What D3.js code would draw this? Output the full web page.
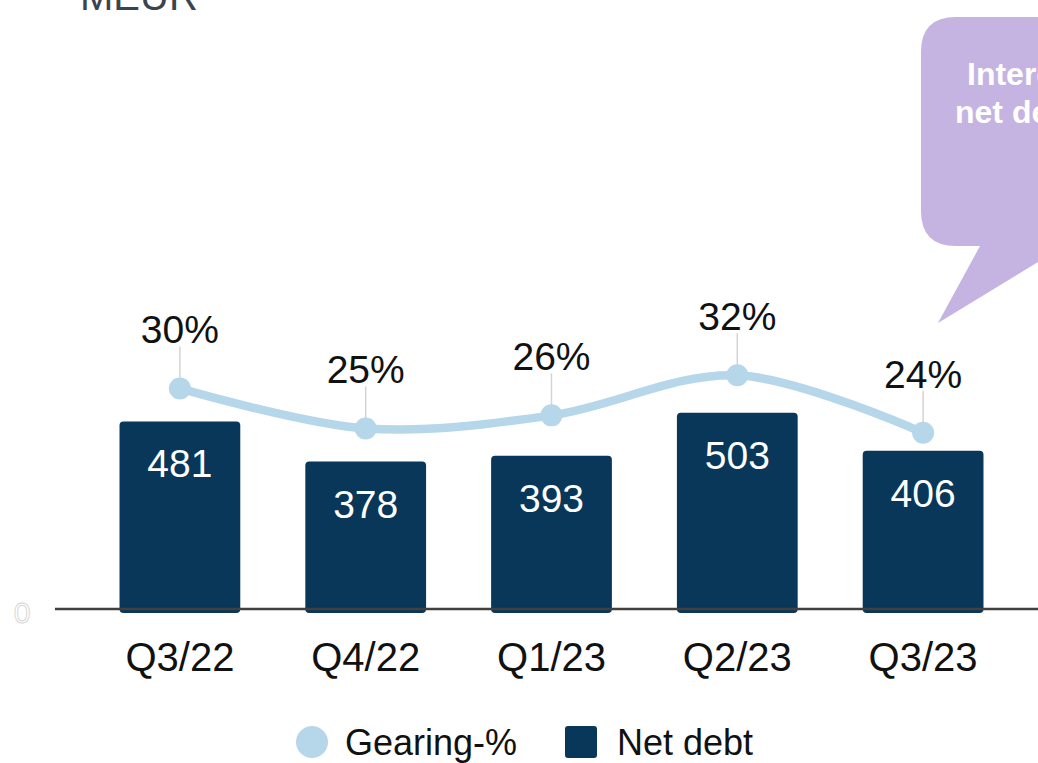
<!DOCTYPE html>
<html>
<head>
<meta charset="utf-8">
<script src="https://cdn.jsdelivr.net/npm/d3@7"></script>
<style>
  html, body { margin: 0; padding: 0; background: #fff; overflow: hidden; }
  svg { display: block; font-family: "Liberation Sans", Arial, sans-serif; }
</style>
</head>
<body>
<div id="chart"></div>
<script>
// data
const quarters = ['Q3/22', 'Q4/22', 'Q1/23', 'Q2/23', 'Q3/23'];
const netDebt = [481, 378, 393, 503, 406];
const gearing = [30.3, 24.8, 26.6, 32.1, 24.2];
const gearingLabels = ['30%', '25%', '26%', '32%', '24%'];
const legendItems = ['Gearing-%', 'Net debt'];
const calloutLines = ['Interest-bearing', 'net debt'];

const W = 1038, H = 763;
const barColor = '#08375a', lineColor = '#b6d6ea';

const svg = d3.select('#chart').append('svg')
    .attr('width', W).attr('height', H);

// unit label, cut at the top edge
svg.append('text').attr('x', 80).attr('y', 10)
    .attr('font-size', 40).attr('fill', '#3a4450').text('MEUR');

// scales
const x = d3.scaleBand().domain(quarters).range([87, 1016])
    .paddingInner(0.35).paddingOuter(0.175);
const baseY = 609, topY = 63;
const y = d3.scaleLinear().domain([0, 1400]).range([baseY, topY]);
const yG = d3.scaleLinear().domain([0, 75]).range([baseY, topY]);

// callout bubble
const bubble = d3.path();
bubble.moveTo(956, 17);
bubble.lineTo(1060, 17);
bubble.lineTo(1060, 246);
bubble.lineTo(1038, 246);
bubble.lineTo(1038, 262);
bubble.lineTo(938, 323);
bubble.lineTo(980, 246);
bubble.lineTo(956, 246);
bubble.quadraticCurveTo(921, 246, 921, 211);
bubble.lineTo(921, 52);
bubble.quadraticCurveTo(921, 17, 956, 17);
bubble.closePath();
svg.append('path').attr('d', bubble.toString()).attr('fill', '#c5b3e1');
svg.selectAll('.callout').data(calloutLines).enter().append('text')
    .attr('class', 'callout')
    .attr('x', function(d, i){ return i === 0 ? 967 : 955; })
    .attr('y', function(d, i){ return 85 + i * 38; })
    .attr('font-size', 32).attr('font-weight', 'bold').attr('fill', '#fff')
    .text(function(d){ return d; });

// bars
const bars = svg.selectAll('.bar').data(netDebt).enter().append('g').attr('class', 'bar');
bars.append('rect')
    .attr('x', function(d, i){ return x(quarters[i]); })
    .attr('y', function(d){ return y(d); })
    .attr('width', x.bandwidth())
    .attr('height', function(d){ return baseY - y(d) + 4; })
    .attr('rx', 4)
    .attr('fill', barColor);
bars.append('text')
    .attr('x', function(d, i){ return x(quarters[i]) + x.bandwidth() / 2; })
    .attr('y', function(d){ return y(d) + 56; })
    .attr('text-anchor', 'middle').attr('font-size', 39).attr('fill', '#fff')
    .text(function(d){ return d; });

// baseline axis
svg.append('line').attr('x1', 55).attr('x2', W).attr('y1', baseY).attr('y2', baseY)
    .attr('stroke', '#404040').attr('stroke-width', 2.5);
svg.append('text').attr('x', 22).attr('y', 623).attr('text-anchor', 'middle')
    .attr('font-size', 30).attr('fill', '#fff').attr('stroke', '#d0d0d0').attr('stroke-width', 0.8)
    .text('0');

// category labels
svg.selectAll('.qlabel').data(quarters).enter().append('text')
    .attr('class', 'qlabel')
    .attr('x', function(d){ return x(d) + x.bandwidth() / 2; })
    .attr('y', 671)
    .attr('text-anchor', 'middle').attr('font-size', 40).attr('fill', '#111')
    .text(function(d){ return d; });

// gearing line
const cx = function(i){ return x(quarters[i]) + x.bandwidth() / 2; };
const line = d3.line()
    .x(function(d, i){ return cx(i); })
    .y(function(d){ return yG(d); })
    .curve(d3.curveCatmullRom.alpha(0.5));
svg.append('path').datum(gearing).attr('d', line)
    .attr('fill', 'none').attr('stroke', lineColor).attr('stroke-width', 8.5);

// leader lines
svg.selectAll('.leader').data(gearing).enter().append('line')
    .attr('class', 'leader')
    .attr('x1', function(d, i){ return cx(i); }).attr('x2', function(d, i){ return cx(i); })
    .attr('y1', function(d){ return yG(d) - 42; }).attr('y2', function(d){ return yG(d); })
    .attr('stroke', '#d4d4d4').attr('stroke-width', 1.5);

svg.selectAll('.dot').data(gearing).enter().append('circle')
    .attr('class', 'dot')
    .attr('cx', function(d, i){ return cx(i); })
    .attr('cy', function(d){ return yG(d); })
    .attr('r', 11).attr('fill', lineColor);

svg.selectAll('.glabel').data(gearing).enter().append('text')
    .attr('class', 'glabel')
    .attr('x', function(d, i){ return cx(i); })
    .attr('y', function(d){ return yG(d) - 45; })
    .attr('text-anchor', 'middle').attr('font-size', 39).attr('fill', '#111')
    .attr('stroke', '#fff').attr('stroke-width', 6).attr('paint-order', 'stroke')
    .attr('stroke-linejoin', 'round')
    .text(function(d, i){ return gearingLabels[i]; });

// legend
const leg = svg.append('g');
leg.append('circle').attr('cx', 312).attr('cy', 742).attr('r', 16).attr('fill', lineColor);
leg.append('text').attr('x', 345).attr('y', 755).attr('font-size', 36).attr('fill', '#111')
    .text(legendItems[0]);
leg.append('rect').attr('x', 565).attr('y', 726).attr('width', 32).attr('height', 32)
    .attr('rx', 3).attr('fill', barColor);
leg.append('text').attr('x', 617).attr('y', 755).attr('font-size', 36).attr('fill', '#111')
    .text(legendItems[1]);
</script>
</body>
</html>
